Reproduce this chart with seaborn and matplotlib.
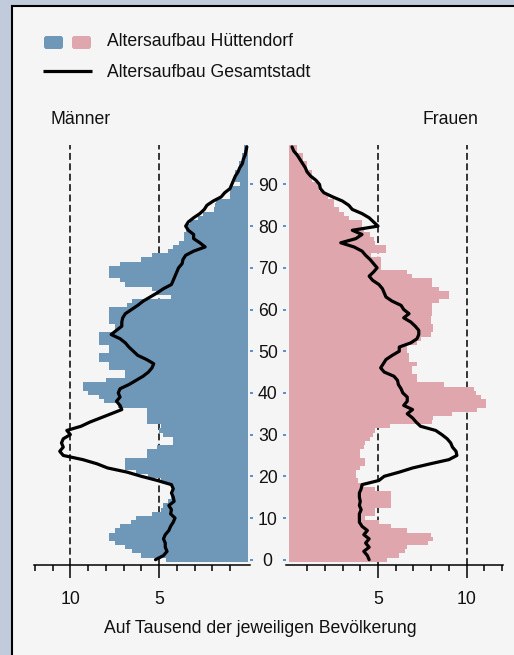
import matplotlib
matplotlib.use('Agg')
import matplotlib.pyplot as plt
import seaborn as sns
from matplotlib.patches import Rectangle, FancyBboxPatch

ages = list(range(100))

# Altersaufbau Hüttendorf (Promille), Alter 0..99
maenner_ort = [4.6, 6.0, 6.5, 6.9, 7.5, 7.8, 7.8, 7.5, 7.2, 6.6,
               6.3, 5.4, 4.9, 4.8, 4.5, 4.3, 4.2, 4.2, 4.3, 4.9,
               5.6, 6.3, 6.9, 6.9, 6.9, 5.7, 5.7, 5.1, 4.2, 4.2,
               4.8, 5.0, 4.9, 5.7, 5.7, 5.7, 5.7, 7.3, 8.1, 8.4,
               9.0, 9.3, 9.3, 8.0, 6.9, 6.9, 7.8, 7.8, 8.4, 8.4,
               7.8, 7.8, 8.4, 8.4, 8.4, 7.5, 7.5, 7.8, 7.8, 7.8,
               7.8, 6.8, 6.5, 4.3, 5.2, 5.4, 6.9, 7.2, 7.8, 7.8,
               7.8, 7.2, 6.0, 5.4, 4.5, 4.2, 3.9, 3.6, 3.6, 3.5,
               3.5, 3.25, 2.8, 2.5, 1.9, 1.85, 1.8, 1.0, 1.0, 1.0,
               0.45, 0.7, 0.7, 0.7, 0.5, 0.5, 0.35, 0.35, 0.2, 0.2]
frauen_ort = [5.5, 6.2, 6.55, 6.65, 7.8, 8.1, 8.0, 6.65, 5.75, 5.05,
              4.25, 4.85, 4.85, 5.75, 5.75, 5.75, 5.75, 4.85, 4.2, 3.9,
              3.75, 3.75, 4.0, 4.25, 4.25, 4.0, 4.0, 4.2, 4.25, 4.55,
              4.7, 4.85, 5.7, 8.05, 8.1, 9.2, 10.6, 11.1, 11.1, 10.8,
              10.5, 10.4, 8.7, 7.2, 7.2, 6.9, 6.9, 7.2, 6.75, 6.75,
              6.65, 6.65, 7.2, 7.4, 8.0, 8.1, 8.1, 8.0, 8.0, 8.05,
              8.05, 8.05, 8.45, 9.0, 9.0, 8.45, 8.05, 8.05, 6.9, 6.65,
              5.15, 5.15, 5.15, 4.6, 5.45, 5.45, 4.85, 4.8, 4.55, 4.2,
              4.1, 4.1, 3.35, 3.1, 2.8, 2.5, 2.5, 2.2, 1.95, 1.65,
              1.6, 1.3, 1.25, 1.25, 1.0, 1.0, 0.75, 0.75, 0.45, 0.45]

# Altersaufbau Gesamtstadt
maenner_stadt = [5.2, 4.75, 4.55, 4.65, 4.65, 4.75, 4.65, 4.45, 4.35, 4.2,
                 4.1, 4.35, 4.3, 4.45, 4.15, 4.2, 4.3, 4.2, 4.3, 5.1,
                 6.0, 6.8, 7.9, 8.5, 9.3, 10.4, 10.6, 10.4, 10.5, 10.4,
                 10.0, 10.2, 9.4, 8.9, 8.3, 7.7, 7.1, 7.2, 7.4, 7.2,
                 7.3, 7.2, 6.7, 6.3, 5.9, 5.6, 5.4, 5.3, 5.7, 6.2,
                 6.45, 6.7, 6.9, 7.2, 7.7, 7.4, 7.1, 7.1, 7.05, 6.9,
                 6.55, 6.2, 5.9, 5.5, 5.1, 4.75, 4.3, 4.2, 4.1, 4.0,
                 3.9, 3.7, 3.65, 3.5, 3.05, 2.4, 2.7, 3.05, 3.05, 3.35,
                 3.5, 3.35, 3.05, 2.7, 2.45, 2.3, 1.95, 1.5, 1.3, 1.0,
                 0.9, 0.8, 0.7, 0.55, 0.45, 0.3, 0.25, 0.15, 0.1, 0.05]
frauen_stadt = [4.5, 4.4, 4.2, 4.5, 4.3, 4.5, 4.2, 4.4, 4.1, 3.95,
                3.95, 3.95, 4.05, 3.95, 4.0, 3.95, 3.95, 4.05, 4.1, 5.05,
                5.35, 6.2, 6.95, 7.95, 9.0, 9.45, 9.4, 9.2, 9.1, 8.9,
                8.6, 8.25, 7.4, 7.15, 6.95, 6.65, 6.95, 6.45, 6.65, 6.65,
                6.4, 6.3, 6.15, 6.1, 5.9, 5.35, 5.15, 5.3, 5.45, 5.8,
                6.2, 6.2, 6.85, 7.2, 7.3, 7.3, 7.1, 6.85, 6.45, 6.75,
                6.45, 6.3, 5.8, 5.45, 5.35, 5.25, 5.05, 4.7, 4.5, 4.75,
                4.95, 4.75, 4.55, 4.3, 4.1, 3.65, 2.9, 3.75, 4.1, 3.55,
                5.0, 4.75, 4.5, 4.1, 3.55, 3.35, 3.0, 2.45, 1.95, 1.75,
                1.7, 1.5, 1.2, 1.0, 0.9, 0.75, 0.6, 0.45, 0.25, 0.15]

alter_ticks = list(range(0, 100, 10))
major_ticks = [5, 10]
minor_ticks = [1, 2, 3, 4, 6, 7, 8, 9, 11, 12]

blau = '#6f97b8'
rosa = '#e0a6ae'
tick_blau = '#4d87d0'
fs = 12.7

sns.set_theme(style="white")
plt.rcParams['font.family'] = ['Liberation Sans', 'DejaVu Sans']

W, H = 514, 655
fig = plt.figure(figsize=(W / 100, H / 100), dpi=100)
fig.patch.set_facecolor('#c2cbdc')

# Hintergrund-Achse in Pixelkoordinaten
bg = fig.add_axes([0, 0, 1, 1])
bg.set_xlim(0, W)
bg.set_ylim(H, 0)
bg.axis('off')
bg.set_zorder(-1)
bg.add_patch(Rectangle((12, 6), 600, 700, facecolor='#f5f5f5',
                       edgecolor='black', lw=1.5))

ybot, ytop = 565, 144.8
axL = fig.add_axes([34 / W, (H - ybot) / H, 216.4 / W, (ybot - ytop) / H])
axR = fig.add_axes([285.8 / W, (H - ybot) / H, 217.2 / W, (ybot - ytop) / H])

for ax, bars, line, col in [(axL, maenner_ort, maenner_stadt, blau),
                            (axR, frauen_ort, frauen_stadt, rosa)]:
    ax.set_facecolor('none')
    for v in major_ticks:
        ax.axvline(v, color='black', lw=1.1, ls=(0, (4.5, 2.3)), zorder=0)
    sns.barplot(x=bars, y=ages, orient='y', native_scale=True, width=1,
                color=col, saturation=1, errorbar=None, ax=ax,
                linewidth=0, zorder=1)
    for p in ax.patches:
        p.set_antialiased(False)
    sns.lineplot(x=line, y=ages, orient='y', estimator=None, ax=ax,
                 color='black', linewidth=2.3, zorder=3)
    ax.set_ylim(-1.27, 99.5)
    ax.set_xlabel('')
    ax.set_ylabel('')
    for s in ['top', 'left', 'right']:
        ax.spines[s].set_visible(False)
    ax.spines['bottom'].set_color('black')
    ax.spines['bottom'].set_linewidth(1.1)
    ax.set_xticks(major_ticks)
    ax.set_xticklabels([str(v) for v in major_ticks])
    ax.set_xticks(minor_ticks, minor=True)
    ax.tick_params(axis='x', which='major', bottom=True, length=9.4,
                   width=1.1, color='black', labelsize=fs, pad=9.5,
                   labelcolor='#111111')
    ax.tick_params(axis='x', which='minor', bottom=True, length=4,
                   width=1.1, color='black')
    ax.set_yticks(alter_ticks)
    ax.grid(False)

axL.set_xlim(12.05, -0.15)
axR.set_xlim(-0.2, 12.05)

axL.tick_params(axis='y', left=False, right=True, labelleft=False,
                labelright=False, length=2.5, width=1.3, color=tick_blau)
axR.tick_params(axis='y', left=True, labelleft=True, length=2.5, width=1.3,
                color=tick_blau, labelsize=fs, pad=10.5, labelcolor='#111111')
axR.set_yticklabels([str(a) for a in alter_ticks])
plt.setp(axR.get_yticklabels(), ha='center')

# Legende
bg.add_patch(FancyBboxPatch((44, 36), 19, 13,
                            boxstyle='round,pad=0,rounding_size=2.5',
                            facecolor=blau, edgecolor='none'))
bg.add_patch(FancyBboxPatch((72, 36), 19, 13,
                            boxstyle='round,pad=0,rounding_size=2.5',
                            facecolor=rosa, edgecolor='none'))
bg.plot([43, 92], [71, 71], color='black', lw=2.3, solid_capstyle='butt')
bg.text(107, 46.5, 'Altersaufbau Hüttendorf', fontsize=fs,
        va='baseline', ha='left', color='#111111')
bg.text(107, 76.7, 'Altersaufbau Gesamtstadt', fontsize=fs,
        va='baseline', ha='left', color='#111111')

bg.text(50, 124.3, 'Männer', fontsize=fs, va='baseline', ha='left',
        color='#111111')
bg.text(478, 124.3, 'Frauen', fontsize=fs, va='baseline', ha='right',
        color='#111111')
bg.text(260, 633, 'Auf Tausend der jeweiligen Bevölkerung', fontsize=fs,
        va='baseline', ha='center', color='#111111')

fig.savefig('out.png', dpi=100, facecolor=fig.get_facecolor())
